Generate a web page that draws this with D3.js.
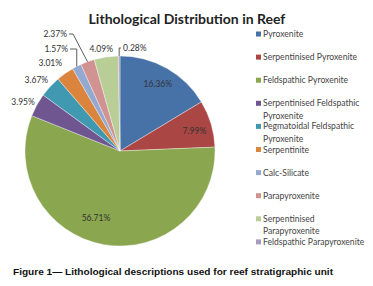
<!DOCTYPE html>
<html>
<head>
<meta charset="utf-8">
<script src="https://cdn.jsdelivr.net/npm/d3@7"></script>
<style>
    body { margin: 0; background: #fff; }
    svg { display: block; }
</style>
</head>
<body>
<div id="chart"></div>
<script>
// Data
let categories = ["Pyroxenite", "Serpentinised Pyroxenite", "Feldspathic Pyroxenite",
    "Serpentinised Feldspathic Pyroxenite", "Pegmatoidal Feldspathic Pyroxenite", "Serpentinite",
    "Calc-Silicate", "Parapyroxenite", "Serpentinised Parapyroxenite", "Feldspathic Parapyroxenite"];
let values = [16.36, 7.99, 56.71, 3.95, 3.67, 3.01, 1.57, 2.37, 4.09, 0.28];
let colors = ["#4672A8", "#AA4643", "#8AA64F", "#6F5690", "#4099B1", "#DB843D",
    "#93A9D0", "#D19392", "#B9CE96", "#A99BC0"];

let width = 373, height = 286;
let cx = 120, cy = 151, radius = 95;

let svg = d3.select("#chart").append("svg")
    .attr("width", width)
    .attr("height", height);

// Title
svg.append("text")
    .attr("x", 187)
    .attr("y", 24)
    .attr("text-anchor", "middle")
    .attr("font-family", "Lato, 'Open Sans', sans-serif")
    .attr("font-weight", "bold")
    .attr("font-size", 14)
    .attr("fill", "#222")
    .text("Lithological Distribution in Reef");

// Pie
let pie = d3.pie().sort(null).value(d => d);
let arcs = pie(values);
let arc = d3.arc().innerRadius(0).outerRadius(radius);

let g = svg.append("g")
    .attr("transform", "translate(" + cx + "," + cy + ")");

g.selectAll(".slice")
    .data(arcs)
    .enter().append("path")
    .attr("class", "slice")
    .attr("d", arc)
    .attr("fill", (d, i) => colors[i])
    .attr("stroke", "rgba(255,255,255,0.6)")
    .attr("stroke-width", 0.6);

// label placement: inside ones on a radius, outside ones hang off the rim
let labelStyle = {
    0: { type: "in", r: 0.81, rot: 0 },
    1: { type: "in", r: 0.81, rot: 2 },
    2: { type: "in", r: 0.75, rot: 10 },
    3: { type: "out", anchor: "end", dx: -2, dy: -3 },
    4: { type: "out", anchor: "end", dx: -2, dy: -7 },
    5: { type: "out", anchor: "end", dx: -3, dy: -10 },
    6: { type: "lead", anchor: "end", ly: -102, lx: -52 },
    7: { type: "lead", anchor: "end", ly: -117, lx: -53 },
    8: { type: "out", anchor: "middle", dx: -5, dy: -8 },
    9: { type: "lead", anchor: "start", ly: -103, lx: 3 }
};

let fmt = d => d.toFixed(2) + "%";

arcs.forEach((d, i) => {
    let s = labelStyle[i];
    let mid = (d.startAngle + d.endAngle) / 2;
    let rimX = radius * Math.sin(mid), rimY = -radius * Math.cos(mid);
    let x, y, anchor = "middle";

    if (s.type === "in") {
        let a = mid + s.rot * Math.PI / 180;
        x = s.r * radius * Math.sin(a);
        y = -s.r * radius * Math.cos(a);
    } else if (s.type === "out") {
        x = rimX + s.dx;
        y = rimY + s.dy;
        anchor = s.anchor;
    } else {
        x = s.lx;
        y = s.ly;
        anchor = s.anchor;
        let gap = anchor === "end" ? 2 : -2;
        let bend = i === 7 ? [x + gap + 4, y] : [rimX, y];
        g.append("polyline")
            .attr("points", [[rimX, rimY], bend, [x + gap, y]].map(p => p.join(",")).join(" "))
            .attr("fill", "none")
            .attr("stroke", "#333")
            .attr("stroke-width", 0.8);
    }

    g.append("text")
        .attr("x", x)
        .attr("y", y)
        .attr("dy", "0.35em")
        .attr("text-anchor", anchor)
        .attr("font-family", "Lato, sans-serif")
        .attr("font-size", 8.5)
        .attr("fill", "#333")
        .text(fmt(values[i]));
});

// Legend
let legendX = 256, textX = 7;
let legend = svg.append("g")
    .attr("transform", "translate(" + legendX + ",34)");

let rowStep = 23.1;
let wrapWidth = width - legendX - textX - 6;

categories.forEach((c, i) => {
    let row = legend.append("g")
        .attr("transform", "translate(0," + (i * rowStep) + ")");

    row.append("rect")
        .attr("x", 0)
        .attr("y", -2.5)
        .attr("width", 5)
        .attr("height", 5)
        .attr("fill", colors[i]);

    let t = row.append("text")
        .attr("x", textX)
        .attr("y", 0)
        .attr("font-family", "Lato, sans-serif")
        .attr("font-size", 8.6)
        .attr("fill", "#444");

    // simple word wrap
    let words = c.split(" "), line = [], lines = [];
    let probe = t.append("tspan");
    words.forEach(w => {
        line.push(w);
        probe.text(line.join(" "));
        if (probe.node().getComputedTextLength() > wrapWidth && line.length > 1) {
            line.pop();
            lines.push(line.join(" "));
            line = [w];
        }
    });
    lines.push(line.join(" "));
    probe.remove();

    lines.forEach((l, j) => {
        t.append("tspan")
            .attr("x", textX)
            .attr("dy", j === 0 ? "0.35em" : "1.45em")
            .text(l);
    });
});

// Caption
svg.append("text")
    .attr("x", 13)
    .attr("y", 275)
    .attr("font-family", "'Liberation Sans', Arial, sans-serif")
    .attr("font-weight", "bold")
    .attr("font-size", 9)
    .attr("textLength", 320)
    .attr("lengthAdjust", "spacingAndGlyphs")
    .attr("fill", "#111")
    .text("Figure 1\u2014 Lithological descriptions used for reef stratigraphic unit");
</script>
</body>
</html>
